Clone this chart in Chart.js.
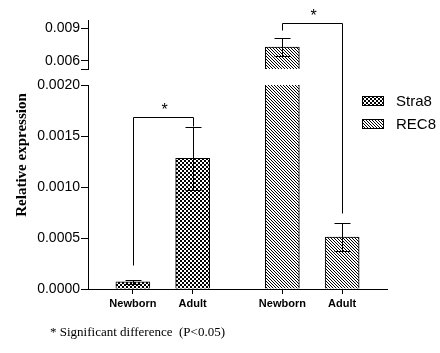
<!DOCTYPE html>
<html><head><meta charset="utf-8">
<script src="https://cdn.jsdelivr.net/npm/chart.js@4.4.0/dist/chart.umd.min.js"></script>
<style>
html,body{margin:0;padding:0;background:#fff;}
#wrap{position:relative;width:440px;height:353px;overflow:hidden;}
canvas{position:absolute;left:0;top:0;}
#note{position:absolute;left:50px;top:325px;font:13px "Liberation Serif","Times New Roman",serif;white-space:pre;color:#000;line-height:13px;}
</style></head><body>
<div id="wrap">
<canvas id="upper" width="440" height="353"></canvas>
<canvas id="lower" width="440" height="353"></canvas>
<div id="note">* Significant difference  (P&lt;0.05)</div>
</div>
<script>
// ---- data ----
const categories = ['Newborn', 'Adult', 'Newborn', 'Adult'];
const seriesNames = ['Stra8', 'REC8'];
const stra8Values = [0.00007, 0.00128];
const stra8Errors = [0.00002, 0.00031];
const rec8Values = [0.00727, 0.00051];
const rec8Errors = [0.00082, 0.00014];
const lowerTicks = [0, 0.0005, 0.0010, 0.0015, 0.0020];
const upperTicks = [0.006, 0.009];
const lowerRange = [0, 0.0020];
const upperRange = [0.00527, 0.00973];
// significance brackets (values on the y axis)
const bracketLeftEnd = [0.00024, 0.00882];
const bracketTop = [0.00169, 0.00945];
const bracketRightEnd = [0.0016, 0.000745];
const footnote = '* Significant difference  (P<0.05)';

// ---- layout of category slots ----
const SLOTS = 10;
const slotIndex = [1, 3, 6, 8];
const labels = Array(SLOTS).fill('');
categories.forEach((c, i) => labels[slotIndex[i]] = c);
function slotArray(vals, offset) {
  const a = Array(SLOTS).fill(null);
  vals.forEach((v, i) => a[slotIndex[offset + i]] = v);
  return a;
}

// ---- patterns ----
const pctx = document.getElementById('lower').getContext('2d');
function makeChecker() {
  const c = document.createElement('canvas'); c.width = 4; c.height = 4;
  const x = c.getContext('2d');
  x.fillStyle = '#fff'; x.fillRect(0, 0, 4, 4);
  x.fillStyle = '#000'; x.fillRect(0, 0, 2, 2); x.fillRect(2, 2, 2, 2);
  return pctx.createPattern(c, 'repeat');
}
function makeHatch() {
  const n = 3;
  const c = document.createElement('canvas'); c.width = n; c.height = n;
  const x = c.getContext('2d');
  x.fillStyle = '#fff'; x.fillRect(0, 0, n, n);
  x.fillStyle = '#000';
  for (let i = 0; i < n; i++) x.fillRect(i, i, 1, 1);
  return pctx.createPattern(c, 'repeat');
}
const checker = makeChecker();
const hatch = makeHatch();

function datasets() {
  return [
    { label: seriesNames[0], data: slotArray(stra8Values, 0), errors: slotArray(stra8Errors, 0),
      backgroundColor: checker, borderColor: '#000', borderWidth: 1, barThickness: 34, grouped: false },
    { label: seriesNames[1], data: slotArray(rec8Values, 2), errors: slotArray(rec8Errors, 2),
      backgroundColor: hatch, borderColor: '#000', borderWidth: 1, barThickness: 34, grouped: false }
  ];
}

const errorBars = {
  id: 'errorBars',
  afterDatasetsDraw(chart) {
    const ctx = chart.ctx, a = chart.chartArea, ys = chart.scales.y;
    ctx.save();
    ctx.beginPath(); ctx.rect(a.left - 10, a.top - 1, a.right - a.left + 20, a.bottom - a.top + 2); ctx.clip();
    ctx.strokeStyle = '#000'; ctx.lineWidth = 1;
    chart.data.datasets.forEach((ds, di) => {
      const meta = chart.getDatasetMeta(di);
      ds.data.forEach((v, j) => {
        if (v === null) return;
        const e = ds.errors[j];
        const x = Math.round(meta.data[j].x) + 0.5;
        const yt = Math.round(ys.getPixelForValue(v + e)) + 0.5;
        const yb = Math.round(ys.getPixelForValue(v - e)) + 0.5;
        ctx.beginPath();
        ctx.moveTo(x, yt); ctx.lineTo(x, yb);
        ctx.moveTo(x - 8, yt); ctx.lineTo(x + 8, yt);
        ctx.moveTo(x - 8, yb); ctx.lineTo(x + 8, yb);
        ctx.stroke();
      });
    });
    ctx.restore();
  }
};

function yScale(range, ticks, isUpper) {
  return {
    type: 'linear', min: range[0], max: range[1], position: 'left',
    afterBuildTicks: s => { s.ticks = (isUpper ? [range[0]].concat(ticks) : ticks).map(v => ({ value: v })); },
    afterFit: s => { s.width = 88; },
    grid: { drawOnChartArea: false, tickLength: 7, color: '#000', tickColor: '#000' },
    border: { display: true, color: '#000', width: 1 },
    ticks: {
      color: '#000', padding: 1, font: { family: '"Liberation Sans", Arial, sans-serif', size: 14 },
      callback: v => ticks.includes(v) ? v.toFixed(isUpper ? 3 : 4) : ''
    }
  };
}

function options(isUpper) {
  return {
    responsive: false, animation: false, devicePixelRatio: 1,
    layout: { padding: { left: 0, right: 53, top: isUpper ? 20 : 85, bottom: isUpper ? 284 : 0 } },
    plugins: { legend: { display: false }, tooltip: { enabled: false } },
    scales: {
      x: {
        type: 'category', display: !isUpper, offset: true,
        afterFit: s => { s.height = isUpper ? 0 : 64; },
        grid: { drawOnChartArea: false, offset: false, tickLength: 5,
          color: c => labels[c.index] ? '#000' : 'rgba(0,0,0,0)',
          tickColor: c => labels[c.index] ? '#000' : 'rgba(0,0,0,0)' },
        border: { display: true, color: '#000', width: 1 },
        ticks: { color: '#000', padding: 3, autoSkip: false, maxRotation: 0,
          font: { family: '"Liberation Sans", Arial, sans-serif', size: 11, weight: 'bold' } }
      },
      y: isUpper ? yScale(upperRange, upperTicks, true) : yScale(lowerRange, lowerTicks, false)
    }
  };
}

const upperChart = new Chart(document.getElementById('upper'), {
  type: 'bar', data: { labels: labels, datasets: datasets() },
  options: options(true), plugins: [errorBars]
});

const annotations = {
  id: 'annotations',
  afterDraw(chart) {
    const ctx = chart.ctx;
    const ly = chart.scales.y, uy = upperChart.scales.y;
    const toPx = v => Math.round(v > lowerRange[1] ? uy.getPixelForValue(v) : ly.getPixelForValue(v)) + 0.5;
    ctx.save();
    ctx.strokeStyle = '#000'; ctx.lineWidth = 1; ctx.fillStyle = '#000';
    // brackets: pairs of bars in each series
    for (let k = 0; k < 2; k++) {
      const meta = chart.getDatasetMeta(k);
      const x1 = Math.round(meta.data[slotIndex[2 * k]].x) + 0.5;
      const x2 = Math.round(meta.data[slotIndex[2 * k + 1]].x) + 0.5;
      const yt = toPx(bracketTop[k]);
      ctx.beginPath();
      ctx.moveTo(x1, toPx(bracketLeftEnd[k])); ctx.lineTo(x1, yt);
      ctx.lineTo(x2, yt); ctx.lineTo(x2, toPx(bracketRightEnd[k]));
      ctx.stroke();
      ctx.font = '16px "Liberation Sans", Arial, sans-serif';
      ctx.textAlign = 'center'; ctx.textBaseline = 'alphabetic';
      ctx.fillText('*', (x1 + x2) / 2 + 1, yt - 3);
    }
    // legend
    const a = chart.chartArea;
    const bx = a.right - 25;
    chart.data.datasets.forEach((ds, i) => {
      const by = 96 + i * 23;
      ctx.fillStyle = ds.backgroundColor; ctx.fillRect(bx, by, 22, 10);
      ctx.strokeRect(bx + 0.5, by + 0.5, 21, 9);
      ctx.fillStyle = '#000';
      ctx.font = '15px "Liberation Sans", Arial, sans-serif';
      ctx.textAlign = 'left'; ctx.textBaseline = 'middle';
      ctx.fillText(ds.label, bx + 34, by + 6);
    });
    // y title
    ctx.translate(22, 155); ctx.rotate(-Math.PI / 2);
    ctx.font = 'bold 15px "Liberation Serif", "Times New Roman", serif';
    ctx.textAlign = 'center'; ctx.textBaseline = 'middle';
    ctx.fillText('Relative expression', 0, 0);
    ctx.restore();
  }
};

const lowerChart = new Chart(document.getElementById('lower'), {
  type: 'bar', data: { labels: labels, datasets: datasets() },
  options: options(false), plugins: [errorBars, annotations]
});
document.getElementById('note').textContent = footnote;
</script>
</body></html>
